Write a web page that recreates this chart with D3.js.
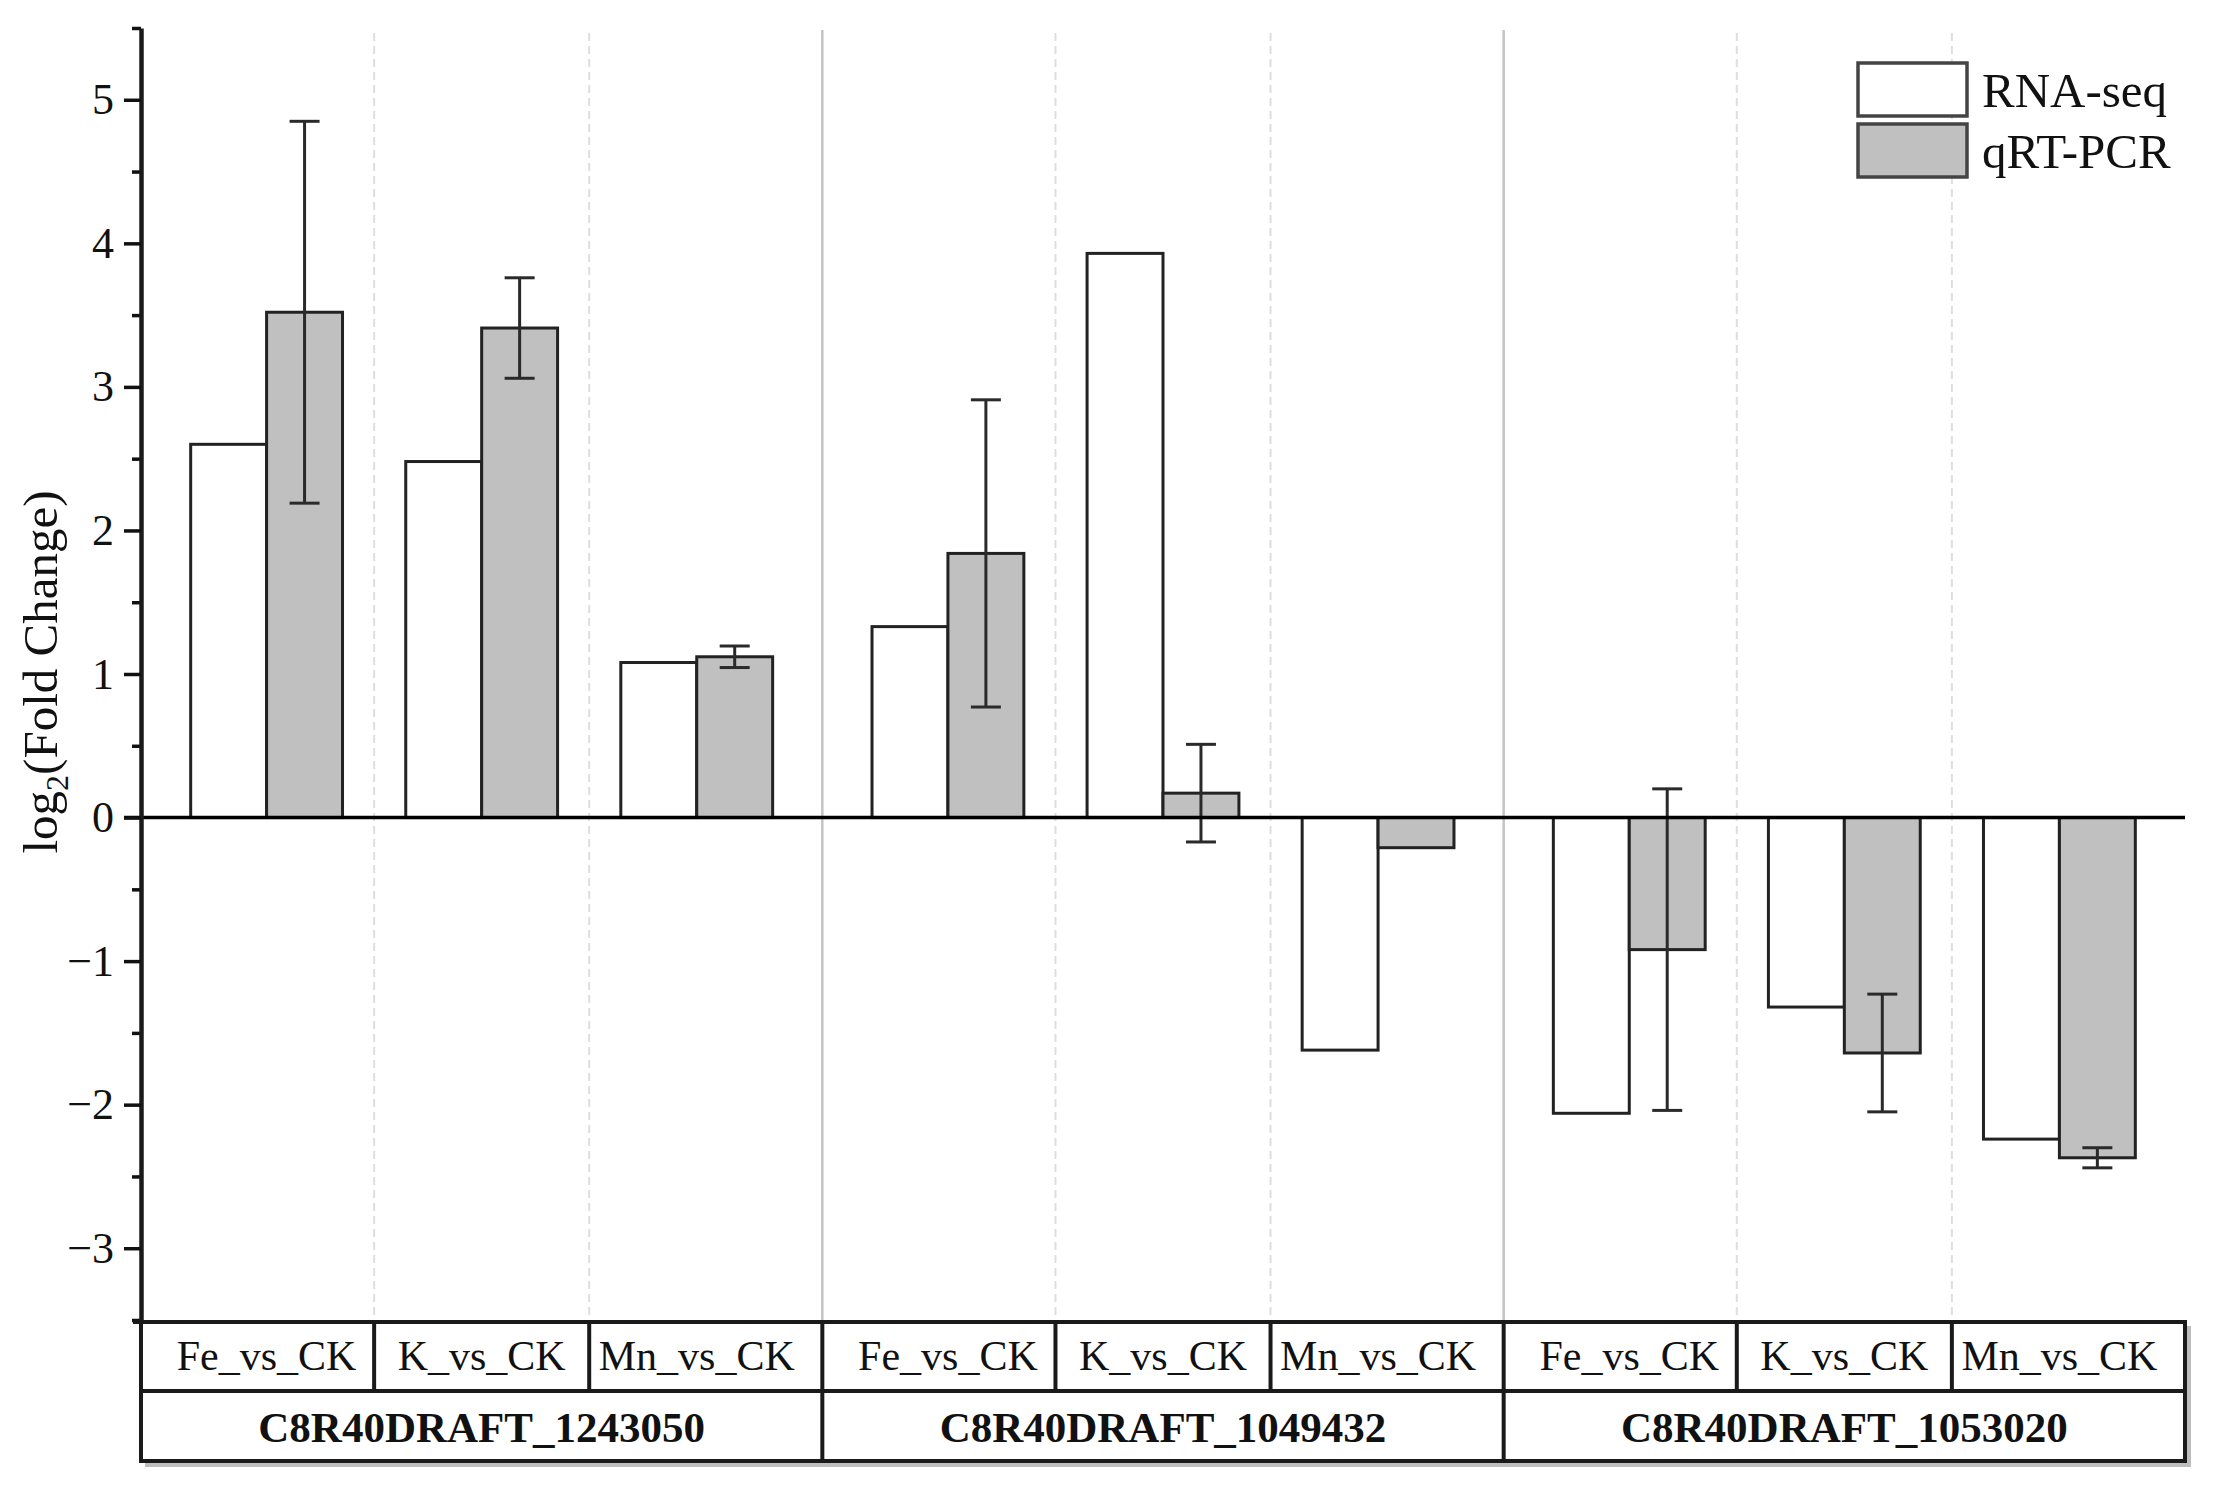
<!DOCTYPE html>
<html>
<head>
<meta charset="utf-8">
<script src="https://cdn.jsdelivr.net/npm/d3@7"></script>
<style>
  body { margin: 0; background: #fff; }
  text { font-family: "Liberation Serif", "Times New Roman", serif; fill: #111; }
</style>
</head>
<body>
<div id="chart"></div>
<script>
// Data
const genes = ["C8R40DRAFT_1243050", "C8R40DRAFT_1049432", "C8R40DRAFT_1053020"];
const comparisons = ["Fe_vs_CK", "K_vs_CK", "Mn_vs_CK"];
const seriesNames = ["RNA-seq", "qRT-PCR"];
const rnaSeq = [2.60, 2.48, 1.08, 1.33, 3.93, -1.62, -2.06, -1.32, -2.24];
const qpcr = [3.52, 3.41, 1.12, 1.84, 0.17, -0.21, -0.92, -1.64, -2.37];
const qpcrErr = [1.33, 0.35, 0.075, 1.07, 0.34, 0, 1.12, 0.41, 0.07];
const yTicks = [-3, -2, -1, 0, 1, 2, 3, 4, 5];
const yMinorTicks = [-3.5, -2.5, -1.5, -0.5, 0.5, 1.5, 2.5, 3.5, 4.5, 5.5];

const width = 2221, height = 1506;
const plot = { left: 141, right: 2185, top: 28, bottom: 1320 };
const table = { top: 1322, mid: 1391, bottom: 1461 };

const svg = d3.select("#chart").append("svg")
    .attr("width", width)
    .attr("height", height)
    .style("background", "#fff");

// x positions: three groups, each with three comparisons and a margin at both ends
const m = 0.584;
const groupW = 2 + 2 * m;
const xScale = d3.scaleLinear()
    .domain([0, groupW * genes.length])
    .range([plot.left, plot.right]);
const unit = xScale(1) - xScale(0);
const barW = 0.353 * unit;

const yScale = d3.scaleLinear()
    .domain([-3.5, 5.5])
    .range([plot.bottom, plot.top]);

// one row per bar pair
const rows = [];
genes.forEach((g, gi) => {
    comparisons.forEach((c, ci) => {
        const i = gi * comparisons.length + ci;
        rows.push({ gene: g, comp: c, gi, ci, pos: gi * groupW + m + ci,
                    rna: rnaSeq[i], q: qpcr[i], err: qpcrErr[i] });
    });
});

// vertical separators
const dashed = [];
const solid = [];
genes.forEach((g, gi) => {
    dashed.push(gi * groupW + m + 0.5, gi * groupW + m + 1.5);
    if (gi > 0) solid.push(gi * groupW);
});

svg.selectAll(".vdash")
    .data(dashed)
    .enter().append("line")
    .attr("x1", d => xScale(d)).attr("x2", d => xScale(d))
    .attr("y1", 33).attr("y2", table.top)
    .attr("stroke", "#dedede")
    .attr("stroke-width", 2)
    .attr("stroke-dasharray", "8,5");

svg.selectAll(".vsolid")
    .data(solid)
    .enter().append("line")
    .attr("x1", d => xScale(d)).attr("x2", d => xScale(d))
    .attr("y1", 30).attr("y2", table.top)
    .attr("stroke", "#c4c4c4")
    .attr("stroke-width", 2.5);

// bars
const y0 = yScale(0);
svg.selectAll(".bar-rna")
    .data(rows)
    .enter().append("rect")
    .attr("x", d => xScale(d.pos) - barW)
    .attr("y", d => Math.min(yScale(d.rna), y0))
    .attr("width", barW)
    .attr("height", d => Math.abs(yScale(d.rna) - y0))
    .attr("fill", "#ffffff")
    .attr("stroke", "#222")
    .attr("stroke-width", 3);

svg.selectAll(".bar-q")
    .data(rows)
    .enter().append("rect")
    .attr("x", d => xScale(d.pos))
    .attr("y", d => Math.min(yScale(d.q), y0))
    .attr("width", barW)
    .attr("height", d => Math.abs(yScale(d.q) - y0))
    .attr("fill", "#c0c0c0")
    .attr("stroke", "#222")
    .attr("stroke-width", 3);

// error bars
const withErr = rows.filter(d => d.err > 0);
const capW = 30;
const eb = svg.selectAll(".err")
    .data(withErr)
    .enter().append("g")
    .attr("stroke", "#2a2a2a")
    .attr("stroke-width", 3);
eb.append("line")
    .attr("x1", d => xScale(d.pos) + barW / 2).attr("x2", d => xScale(d.pos) + barW / 2)
    .attr("y1", d => yScale(d.q + d.err)).attr("y2", d => yScale(d.q - d.err));
eb.append("line")
    .attr("x1", d => xScale(d.pos) + barW / 2 - capW / 2).attr("x2", d => xScale(d.pos) + barW / 2 + capW / 2)
    .attr("y1", d => yScale(d.q + d.err)).attr("y2", d => yScale(d.q + d.err));
eb.append("line")
    .attr("x1", d => xScale(d.pos) + barW / 2 - capW / 2).attr("x2", d => xScale(d.pos) + barW / 2 + capW / 2)
    .attr("y1", d => yScale(d.q - d.err)).attr("y2", d => yScale(d.q - d.err));

// zero line
svg.append("line")
    .attr("x1", plot.left - 17).attr("x2", plot.right)
    .attr("y1", y0).attr("y2", y0)
    .attr("stroke", "#000")
    .attr("stroke-width", 3.5);

// y axis
const fmt = d => (d < 0 ? "\u2212" + Math.abs(d) : d);
svg.append("g")
    .attr("transform", `translate(${plot.left}, 0)`)
    .call(d3.axisLeft(yScale).tickValues(yMinorTicks).tickSize(9).tickFormat(""))
    .call(g => g.select(".domain").remove())
    .call(g => g.selectAll("line").attr("stroke", "#111").attr("stroke-width", 3.5));

const yAxis = svg.append("g")
    .attr("transform", `translate(${plot.left}, 0)`)
    .call(d3.axisLeft(yScale).tickValues(yTicks).tickSize(17).tickSizeOuter(0).tickPadding(10).tickFormat(fmt))
    .attr("font-family", "'Liberation Serif', serif")
    .attr("font-size", 44);
yAxis.select(".domain").attr("stroke", "#1a1a1a").attr("stroke-width", 4.5);
yAxis.selectAll("line").attr("stroke", "#111").attr("stroke-width", 3.5);
yAxis.selectAll("text")
    .style("font-family", "'Liberation Serif', serif")
    .style("font-size", "44px")
    .attr("fill", "#222");

// y label
const yl = svg.append("text")
    .attr("transform", "translate(57, 672) rotate(-90)")
    .style("text-anchor", "middle")
    .style("font-size", "49px");
yl.append("tspan").text("log");
yl.append("tspan").text("2").attr("dy", 11).style("font-size", "32px");
yl.append("tspan").text("(Fold Change)").attr("dy", -11);

// category table
const tbl = svg.append("g");
// shadow
tbl.append("path")
    .attr("d", `M${plot.left + 4},${table.bottom + 4} H${plot.right + 4} V${table.top + 4}`)
    .attr("fill", "none")
    .attr("stroke", "#bdbdbd")
    .attr("stroke-width", 4);
tbl.append("rect")
    .attr("x", plot.left).attr("y", table.top)
    .attr("width", plot.right - plot.left).attr("height", table.bottom - table.top)
    .attr("fill", "#fff")
    .attr("stroke", "#1a1a1a")
    .attr("stroke-width", 4);
tbl.append("line")
    .attr("x1", plot.left - 8).attr("x2", plot.right)
    .attr("y1", table.top).attr("y2", table.top)
    .attr("stroke", "#1a1a1a").attr("stroke-width", 4);
tbl.append("line")
    .attr("x1", plot.left).attr("x2", plot.right)
    .attr("y1", table.mid).attr("y2", table.mid)
    .attr("stroke", "#1a1a1a").attr("stroke-width", 4);
tbl.selectAll(".cdiv")
    .data(dashed)
    .enter().append("line")
    .attr("x1", d => xScale(d)).attr("x2", d => xScale(d))
    .attr("y1", table.top).attr("y2", table.mid)
    .attr("stroke", "#1a1a1a").attr("stroke-width", 4);
tbl.selectAll(".gdiv")
    .data(solid)
    .enter().append("line")
    .attr("x1", d => xScale(d)).attr("x2", d => xScale(d))
    .attr("y1", table.top).attr("y2", table.bottom)
    .attr("stroke", "#1a1a1a").attr("stroke-width", 4);

tbl.selectAll(".comp")
    .data(rows)
    .enter().append("text")
    .attr("x", d => xScale(d.pos))
    .attr("y", 1370)
    .style("text-anchor", "middle")
    .style("font-size", "42px")
    .attr("fill", "#1a1a1a")
    .text(d => d.comp);

tbl.selectAll(".gene")
    .data(genes)
    .enter().append("text")
    .attr("x", (d, i) => xScale(i * groupW + groupW / 2))
    .attr("y", 1442)
    .style("text-anchor", "middle")
    .style("font-size", "43px")
    .style("font-weight", "bold")
    .text(d => d);

// legend
const legend = svg.selectAll(".legend")
    .data(seriesNames)
    .enter().append("g")
    .attr("transform", (d, i) => `translate(1858, ${63 + i * 61})`);
legend.append("rect")
    .attr("width", 109)
    .attr("height", 53)
    .attr("fill", (d, i) => i === 0 ? "#fff" : "#c0c0c0")
    .attr("stroke", "#444")
    .attr("stroke-width", 3.5);
legend.append("text")
    .attr("x", 124)
    .attr("y", 44)
    .style("font-size", "49px")
    .text(d => d);
</script>
</body>
</html>
